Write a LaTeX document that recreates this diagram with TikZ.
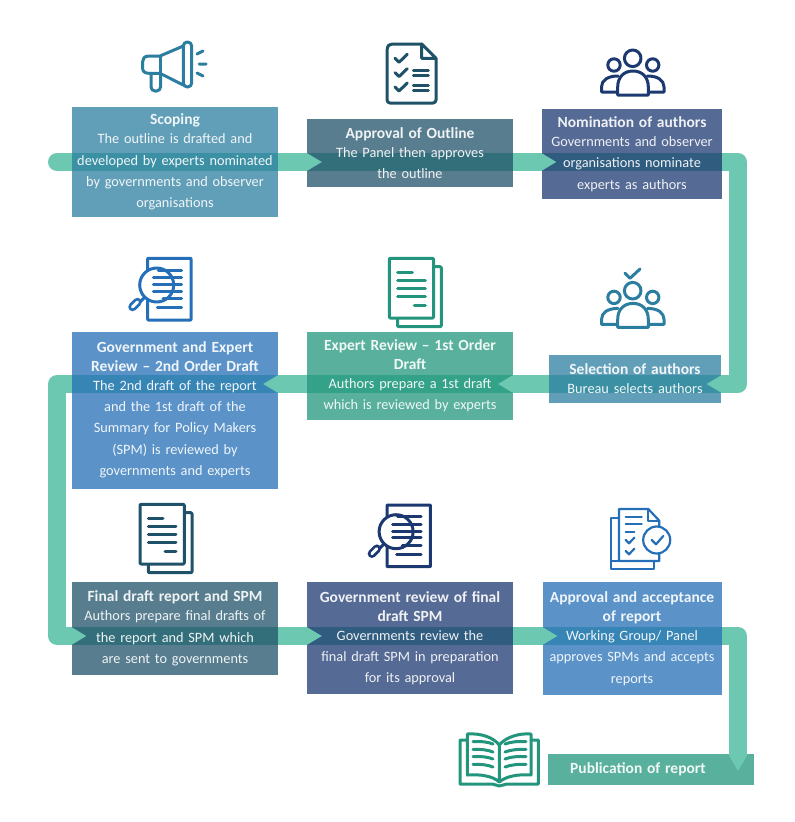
\documentclass[tikz,border=0pt]{standalone}
\usepackage{fontspec}
\setmainfont{Carlito}
\usetikzlibrary{arrows.meta,backgrounds}
\definecolor{cteal}{HTML}{2C7EA0}
\definecolor{cdark}{HTML}{1F5269}
\definecolor{cnavy}{HTML}{1C3870}
\definecolor{cblue}{HTML}{246FB7}
\definecolor{cgreen}{HTML}{22957C}
\definecolor{cflow}{HTML}{6DC8B2}
\newcommand{\br}{\\[2.3pt]}
\newcommand{\ttl}[1]{{\fontsize{15.5}{19}\selectfont\bfseries #1}}
\tikzset{
  x=1pt,y=-1pt,
  stage/.style n args={3}{minimum width=#1,minimum height=#2,text width=#1,inner sep=0pt,align=center,
    fill=#3,fill opacity=.75,text opacity=1,text=white!93!#3,font=\fontsize{14.3}{19}\selectfont},
  band/.style={draw=cflow,line width=18pt,line join=round,line cap=round},
  head/.style={draw=cflow,line width=18pt,-{Triangle[length=15pt,width=18pt,line width=0pt]}},
  icon/.style={line width=3pt,line cap=round,line join=round},
  thin icon/.style={line width=2.2pt,line cap=round,line join=round},
  docs/.pic={
    \draw[icon,fill=white,rounded corners=1pt] (148.3,512.7) rectangle (192,572.7);
    \draw[icon,fill=white,rounded corners=1pt] (140,504.3) rectangle (184.3,564);
    \draw[icon] (148.3,518.3) -- (163,518.3) (148.3,526.7) -- (176,526.7) (148.3,534.7) -- (176,534.7)
      (148.3,542.7) -- (176,542.7) (165,551) -- (176,551);
  },
  searchdoc/.pic={
    \draw[icon,rounded corners=.5pt] (147.7,258.3) rectangle (191,320);
    \draw[icon,fill=white] (156.7,285) circle (17);
    \draw[icon] (158.3,270) -- (181.7,270) (153.3,277.3) -- (181.7,277.3) (153.3,284.3) -- (181.7,284.3)
      (153.3,291) -- (181.7,291) (163,298.3) -- (181.7,298.3) (157.3,307.7) -- (181.7,307.7);
    \draw[icon] (144.5,297.5) -- (140.5,301.5);
    \draw[line width=8.5pt,line cap=round] (137.5,302) -- (132.5,307);
    \draw[white,line width=3pt,line cap=round] (137.5,302) -- (132.5,307);
  },
  people/.pic={
    \draw[icon] (632.7,58.3) circle (8.3) (614,65) circle (6.2) (652.7,65) circle (6.2);
    \draw[icon] (617,92) -- (601.5,92) -- (601.5,87) .. controls (601.5,80) and (608,76) .. (618,76);
    \draw[icon] (648.4,92) -- (664,92) -- (664,87) .. controls (664,80) and (657.4,76) .. (647.4,76);
    \draw[icon,fill=white] (617.7,95) -- (617.7,87) .. controls (617.7,77) and (624,71) .. (633,71)
      .. controls (642,71) and (648.3,77) .. (648.3,87) -- (648.3,95) -- cycle;
  },
}
\begin{document}
\begin{tikzpicture}
\useasboundingbox (0,0) rectangle (795,822);
\coordinate (r1) at (0,162);
\coordinate (r2) at (0,384);
\coordinate (r3) at (0,636);
\coordinate (cR) at (738,0);
\coordinate (cL) at (57,0);
\coordinate (start) at (57,162);

% stages
\node[stage={206pt}{110pt}{cteal}] (scoping) at (175,162) {\ttl{Scoping}\\The outline is drafted and\br developed by experts nominated\br by governments and observer\br organisations};
\node[stage={206pt}{68pt}{cdark}] (outline) at (410,153) {\ttl{Approval of Outline}\\The Panel then approves\br the outline};
\node[stage={180pt}{90pt}{cnavy}] (nomination) at (632,154) {\ttl{Nomination of authors}\\Governments and observer\br organisations nominate\br experts as authors};
\node[stage={172pt}{48pt}{cteal}] (selection) at (635,379) {\ttl{Selection of authors}\\Bureau selects authors};
\node[stage={206pt}{88pt}{cgreen}] (first) at (410,376) {\ttl{Expert Review -- 1st Order}\\\ttl{Draft}\\Authors prepare a 1st draft\br which is reviewed by experts};
\node[stage={206pt}{157pt}{cblue}] (second) at (175,410.5) {\ttl{Government and Expert}\\\ttl{Review -- 2nd Order Draft}\\The 2nd draft of the report\br and the 1st draft of the\br Summary for Policy Makers\br (SPM) is reviewed by\br governments and experts\\[-15pt]\mbox{}};
\node[stage={206pt}{93pt}{cdark}] (final) at (175,628.5) {\ttl{Final draft report and SPM}\\Authors prepare final drafts of\br the report and SPM which\br are sent to governments};
\node[stage={206pt}{112pt}{cnavy}] (review) at (410,638) {\ttl{Government review of final}\\\ttl{draft SPM}\\Governments review the\br final draft SPM in preparation\br for its approval};
\node[stage={179pt}{113pt}{cblue}] (accept) at (632,638.5) {\ttl{Approval and acceptance}\\\ttl{of report}\\Working Group/ Panel\br approves SPMs and accepts\br reports};
\node[stage={206pt}{31pt}{cgreen}] (publication) at (651,769.5) {\hspace*{-26pt}\ttl{Publication of report}};

% flow bands beneath the translucent stages
\begin{pgfonlayer}{background}
  \draw[band] (start) -- (outline.center |- r1);
  \draw[band] (outline.center |- r1) -- (nomination.center |- r1);
  \draw[band] (nomination.center |- r1) -- (cR |- r1) -- (cR |- r2) -- (selection.center |- r2);
  \draw[band] (selection.center |- r2) -- (first.center |- r2);
  \draw[band] (first.center |- r2) -- (second.center |- r2);
  \draw[band] (second.center |- r2) -- (cL |- r2) -- (cL |- r3) -- (final.center |- r3);
  \draw[band] (final.center |- r3) -- (review.center |- r3);
  \draw[band] (review.center |- r3) -- (accept.center |- r3);
  \draw[band] (accept.center |- r3) -- (cR |- r3) -- (cR |- publication.north);
\end{pgfonlayer}

% arrow heads above the stages
\draw[head] (outline.west |- r1) -- ++(15,0);
\draw[head] (nomination.west |- r1) -- ++(14.5,0);
\draw[head] (selection.east |- r2) -- ++(-14.5,0);
\draw[head] (first.east |- r2) -- ++(-15,0);
\draw[head] (second.east |- r2) -- ++(-15,0);
\draw[head] (final.west |- r3) -- ++(14.5,0);
\draw[head] (review.west |- r3) -- ++(15,0);
\draw[head] (accept.west |- r3) -- ++(15,0);
\draw[head] (cR |- publication.north) -- ++(0,17);

% megaphone
\begin{scope}[cteal,icon]
  \draw (183.3,46) -- (160,56) -- (149,56) .. controls (144,56) and (142.5,59) .. (142.5,62) -- (142.5,67)
    .. controls (142.5,71) and (144,73.3) .. (149,73.3) -- (160,73.3) -- (183.3,85);
  \draw (160,56) -- (160,73.3);
  \draw[rounded corners=4pt] (183.3,42) rectangle (191.7,87);
  \draw[rounded corners=4pt] (151,73.3) -- (151,91) -- (160.5,91) -- (160.5,73.3);
  \draw (197,54) -- (203,51) (199,64) -- (206,64) (197,73) -- (203,76);
\end{scope}

% checklist
\begin{scope}[cdark,icon]
  \draw[rounded corners=3pt] (421.7,44) -- (390,44) -- (387,47) -- (387,103) -- (436,103) -- (436,58.3);
  \draw (421.7,44) -- (436,58.3) -- (421.7,58.3) -- cycle;
  \draw (395,58.3) -- (399,62.3) -- (407.3,54.3)
        (395,72.6) -- (399,76.6) -- (407.3,68.6)
        (395,87) -- (399,91) -- (407.3,83);
  \draw (413.3,70) -- (428.3,70) (413.3,75.5) -- (428.3,75.5)
        (413.3,85) -- (428.3,85) (413.3,90.7) -- (428.3,90.7);
\end{scope}

\pic[cnavy] at (0,0) {people};
\pic[cteal] at (0,232.4) {people};
\draw[cteal,icon] (625,273.3) -- (630,278.3) -- (640,269);
\pic[cblue] at (0,0) {searchdoc};
\pic[cgreen] at (249.3,-246) {docs};
\pic[cdark] at (0,0) {docs};
\pic[cnavy] at (239.4,246.7) {searchdoc};

% approval document
\begin{scope}[cblue,thin icon]
  \draw (619,561) -- (611,561) -- (611,517.7) -- (619,517.7);
  \draw (611,561) -- (611,569) -- (654,569) -- (654,561);
  \draw (648.3,509) -- (619,509) -- (619,561) -- (659.3,561) -- (659.3,520.7) -- cycle;
  \draw (648.3,509) -- (648.3,520.7) -- (659.3,520.7);
  \draw[fill=white] (656.7,540) circle (13.5);
  \draw (651.7,540) -- (656,544.3) -- (663.3,536);
  \draw (625.7,516.7) -- (641.7,516.7) (625.7,524) -- (641.7,524) (625.7,531.7) -- (634.3,531.7);
  \draw (625.7,540) -- (629,543.3) -- (634.3,537.7) (625.7,551) -- (629,554.3) -- (634.3,548.7);
\end{scope}

% book
\begin{scope}[cgreen,icon]
  \draw (467.3,740) -- (460,740) -- (460,784) -- (492,784) .. controls (495,784) and (497,786) .. (499.3,786)
    .. controls (502,786) and (504,784) .. (507,784) -- (538.3,784) -- (538.3,740) -- (531,740);
  \draw (499.3,745) .. controls (493,737) and (480,733) .. (467.3,734) -- (467.3,775)
    .. controls (480,774) and (493,776) .. (499.3,782)
    .. controls (506,776) and (519,774) .. (531,775) -- (531,734)
    .. controls (519,733) and (506,737) .. (499.3,745) -- (499.3,782);
  \draw (473,741.7) .. controls (481,741) and (488,742) .. (493,744) (473,749.3) .. controls (481,749) and (488,750) .. (493,752)
    (473,756.7) .. controls (481,756) and (488,757) .. (493,759) (473,764.3) .. controls (481,764) and (488,765) .. (493,767);
  \draw (505,744) .. controls (510,742) and (518,741) .. (526,741.7) (505,752) .. controls (510,750) and (518,749) .. (526,749.3)
    (505,759) .. controls (510,757) and (518,756) .. (526,756.7) (505,767) .. controls (510,765) and (518,764) .. (526,764.3);
\end{scope}
\end{tikzpicture}
\end{document}
